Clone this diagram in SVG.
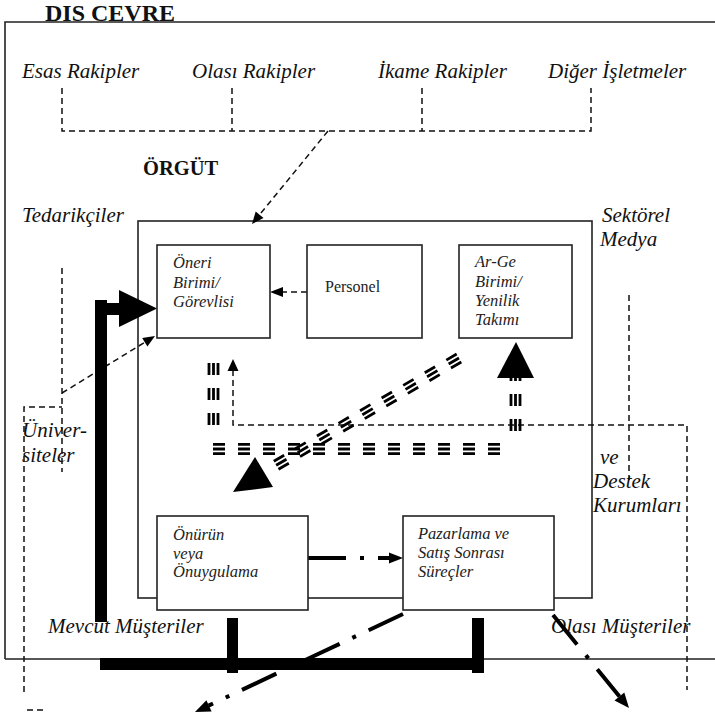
<svg xmlns="http://www.w3.org/2000/svg" width="715" height="715" viewBox="0 0 715 715">
<defs>
<style>
.lbl{font-family:"Liberation Serif","Times New Roman",serif;font-style:italic;font-size:21px;fill:#111}
.nt{font-family:"Liberation Serif","Times New Roman",serif;font-style:italic;font-size:16.5px;fill:#222}
.nr{font-family:"Liberation Serif","Times New Roman",serif;font-size:16px;fill:#222}
.bold{font-family:"Liberation Serif","Times New Roman",serif;font-weight:bold;fill:#111}
.box{fill:#fff;stroke:#222;stroke-width:1.6}
.frame{fill:none;stroke:#222;stroke-width:1.6}
.dash{fill:none;stroke:#111;stroke-width:1.5;stroke-dasharray:6 4}
.tri{fill:none;stroke:#000;stroke-width:2.8;stroke-dasharray:12 13}
.dd{fill:none;stroke:#000;stroke-width:4;stroke-dasharray:38 14 4 14}
.blk{fill:#000}
</style>
</defs>

<g id="frames">
<path class="frame" d="M5,659 V22 H715 M5,659 H715"/>
<rect id="orgut" class="box" x="138" y="221" width="454" height="377"/>
</g>

<g id="labels">
<text class="bold" x="45" y="21" font-size="24">DIS CEVRE</text>
<text class="bold" x="143" y="175" font-size="20.5">ÖRGÜT</text>
<text class="lbl" x="22" y="78">Esas Rakipler</text>
<text class="lbl" x="192" y="78">Olası Rakipler</text>
<text class="lbl" x="378" y="78">İkame Rakipler</text>
<text class="lbl" x="548" y="78">Diğer İşletmeler</text>
<text class="lbl" x="22" y="222">Tedarikçiler</text>
<text class="lbl" x="602" y="222">Sektörel</text>
<text class="lbl" x="600" y="246">Medya</text>
<text class="lbl" x="22" y="437">Üniver-</text>
<text class="lbl" x="22" y="462">siteler</text>
<text class="lbl" x="600" y="464">ve</text>
<text class="lbl" x="593" y="488">Destek</text>
<text class="lbl" x="593" y="512">Kurumları</text>
<text class="lbl" x="48" y="633">Mevcut Müşteriler</text>
<text class="lbl" x="551" y="633">Olası Müşteriler</text>
</g>

<g id="connectors">
<!-- competitor bracket -->
<path class="dash" d="M62,88 V131 H591 V88 M232,88 V131 M422,88 V131"/>
<path class="dash" d="M328,131 L259.6,214.7"/>
<polygon class="blk" points="252,224 263.5,217.9 255.7,211.5"/>
<!-- left dashed -->
<path class="dash" d="M62,268 V472"/>
<path class="dash" d="M24,692 V407 H62"/>
<path class="dash" d="M27,710 H44"/>
<path class="dash" d="M62,393 L144.8,342.3"/>
<polygon class="blk" points="155,336 147.4,346.6 142.2,338"/>
<!-- personel to oneri -->
<path class="dash" d="M307,292 H282"/>
<polygon class="blk" points="270,292 283,287 283,297"/>
<!-- feedback loop dashed -->
<path class="dash" d="M233,370 V425 H687 V690"/>
<polygon class="blk" points="233,359 227.5,371 238.5,371"/>
<path class="dash" d="M629,295 V480"/>
<!-- triple lines -->
<g id="tri-left">
<path class="tri" d="M209,425 V362 M213.5,425 V362 M218,425 V362"/>
</g>
<g id="tri-arge">
<path class="tri" d="M511,431 V369 M515.5,431 V369 M520,431 V369"/>
<polygon class="blk" points="516,342 497,378 534,378"/>
</g>
<g id="tri-horiz">
<path class="tri" d="M213,444.4 H503 M213,449 H503 M213,453.6 H503"/>
</g>
<g id="tri-diag" transform="translate(459,358) rotate(149.6)">
<path class="tri" d="M0,-4.6 H220 M0,0 H220 M0,4.6 H220"/>
</g>
<polygon class="blk" points="233,492 255,457 273,487"/>
<!-- dash-dot arrows -->
<path class="dd" d="M308,558 H392"/>
<polygon class="blk" points="403,558 389,552.5 389,563.5"/>
<path class="dd" d="M403,614 L208.6,705.6"/>
<polygon class="blk" points="195,712 211.6,711.4 206.4,700.2"/>
<path class="dd" d="M553,615 L619.5,696.4"/>
<polygon class="blk" points="629,708 614.5,700.5 624.3,692.4"/>
<!-- thick black arrows/bars -->
<rect class="blk" x="95" y="300" width="12" height="322"/>
<rect class="blk" x="95" y="303" width="26" height="12"/>
<polygon class="blk" points="119,290 157,308.5 119,327"/>
<rect class="blk" x="227" y="618" width="11" height="55"/>
<rect class="blk" x="472" y="618" width="12" height="55"/>
<rect class="blk" x="100" y="658" width="384" height="12"/>
</g>

<g id="node-oneri">
<rect class="box" x="157" y="245" width="113" height="93"/>
<text class="nt" x="173" y="268">Öneri</text>
<text class="nt" x="173" y="287.5">Birimi/</text>
<text class="nt" x="173" y="307">Görevlisi</text>
</g>
<g id="node-personel">
<rect class="box" x="307" y="245" width="115" height="93"/>
<text class="nr" x="325" y="292">Personel</text>
</g>
<g id="node-arge">
<rect class="box" x="459" y="245" width="113" height="93"/>
<text class="nt" x="475" y="267">Ar-Ge</text>
<text class="nt" x="475" y="286.5">Birimi/</text>
<text class="nt" x="475" y="306">Yenilik</text>
<text class="nt" x="475" y="325">Takımı</text>
</g>
<g id="node-onurun">
<rect class="box" x="157" y="516" width="151" height="94"/>
<text class="nt" x="173" y="540">Önürün</text>
<text class="nt" x="173" y="558.5">veya</text>
<text class="nt" x="173" y="577">Önuygulama</text>
</g>
<g id="node-pazarlama">
<rect class="box" x="403" y="516" width="151" height="94"/>
<text class="nt" x="418" y="539">Pazarlama ve</text>
<text class="nt" x="418" y="558">Satış Sonrası</text>
<text class="nt" x="418" y="577">Süreçler</text>
</g>
</svg>
